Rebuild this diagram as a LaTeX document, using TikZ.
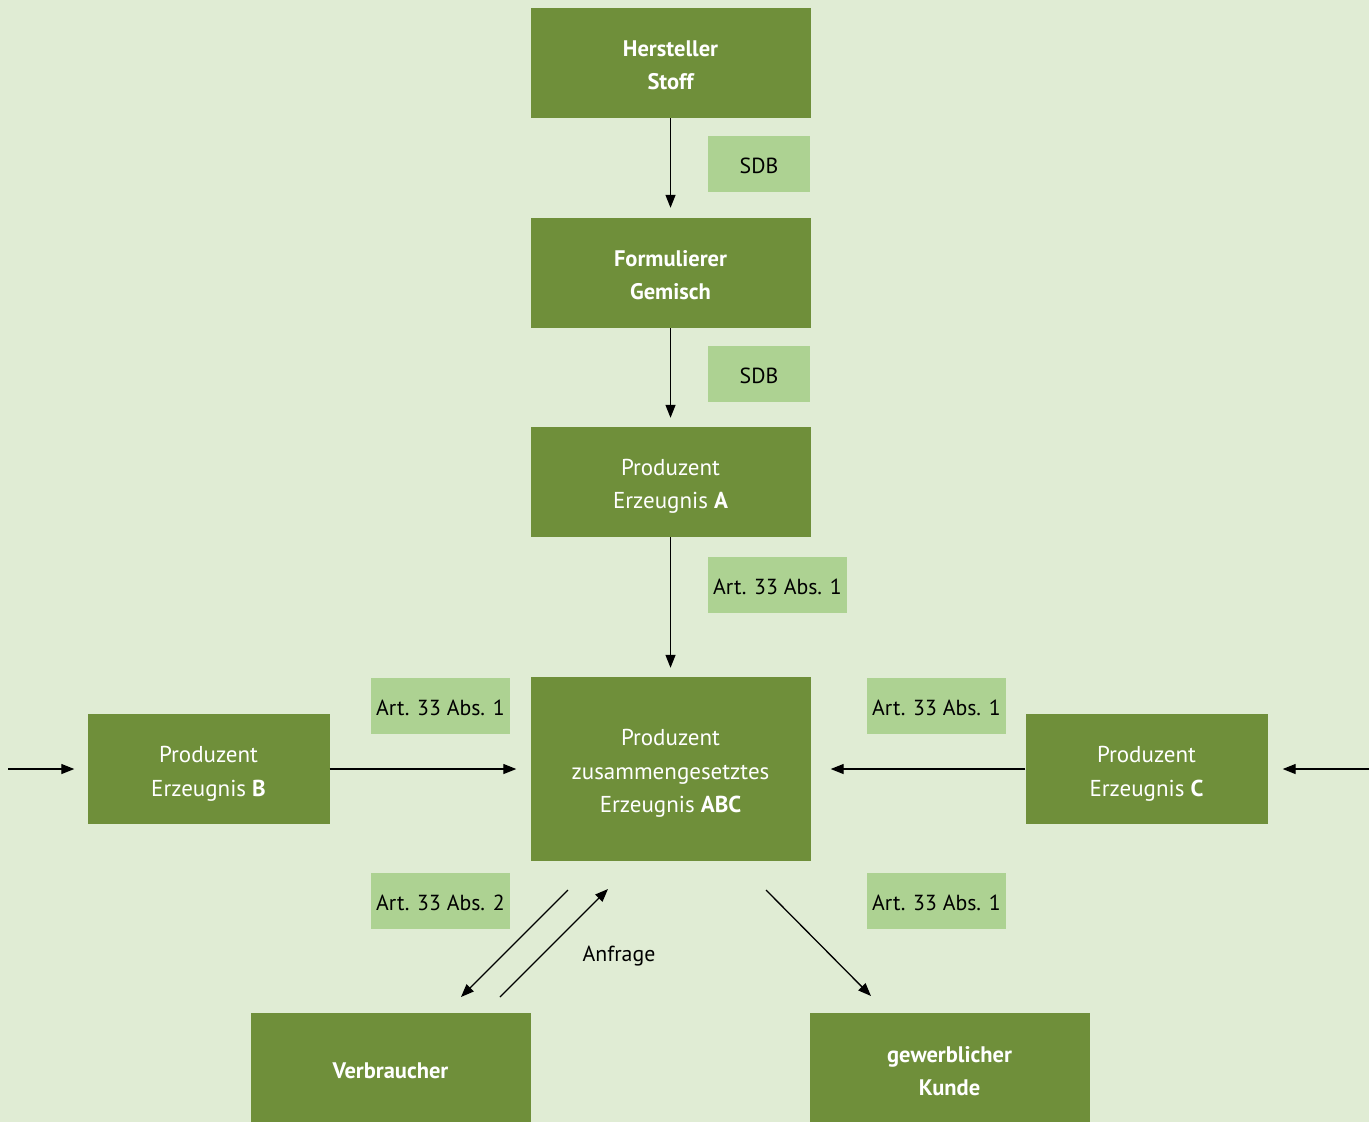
\documentclass[tikz,border=0pt]{standalone}
\usepackage{fontspec}
\setmainfont{PT Sans}
\usetikzlibrary{arrows.meta,calc}
\definecolor{bg}{HTML}{E0ECD4}
\definecolor{dark}{HTML}{6F8F3A}
\definecolor{lab}{HTML}{ADD292}
\newcommand\mylift[1]{\rule{0pt}{#1}}
\begin{document}
\begin{tikzpicture}[x=1pt,y=-1pt,
 actor/.style={fill=dark, text=white, minimum width=280pt, minimum height=110pt, inner sep=0pt, align=center, font=\fontsize{23}{33.5}\selectfont},
 lift/.style={execute at begin node={\rule{0pt}{#1}}},
 boldactor/.style={actor, font=\fontsize{22.5}{33.5}\selectfont\bfseries},
 side/.style={actor, minimum width=242pt},
 tag/.style={fill=lab, text=black, minimum height=56pt, minimum width=139pt, inner sep=0pt, font=\fontsize{21.8}{24}\selectfont, lift=19.5pt},
 flow/.style={-{Triangle[length=13pt,width=10pt]}, line width=1.3pt}]
\fill[bg] (0,0) rectangle (1369,1122);
\useasboundingbox (0,0) rectangle (1369,1122);
\begin{scope}
\clip (0,0) rectangle (1369,1122);
\node[boldactor] (h) at (670.5,63) {\mylift{20pt}Hersteller\\Stoff};
\node[boldactor] (f) at (670.5,273) {\mylift{20pt}Formulierer\\Gemisch};
\node[actor] (a) at (670.5,482) {\mylift{25pt}Produzent\\Erzeugnis \textbf{A}};
\node[actor, minimum height=184pt] (abc) at (670.5,769) {\mylift{25pt}Produzent\\zusammengesetztes\\Erzeugnis \textbf{ABC}};
\node[side] (b) at (208.5,769) {\mylift{26pt}Produzent\\Erzeugnis \textbf{B}};
\node[side] (c) at (1146.5,769) {\mylift{26pt}Produzent\\Erzeugnis \textbf{C}};
\node[boldactor, minimum height=116pt] (v) at (390.5,1071) {Verbraucher};
\node[boldactor, minimum height=116pt] (k) at (949.5,1071) {gewerblicher\\Kunde};
\end{scope}
\node[tag, minimum width=102pt] (t1) at (759,164) {SDB};
\node[tag, minimum width=102pt] (t2) at (759,374) {SDB};
\node[tag] (t3) at (777.5,585) {Art. 33 Abs. 1};
\node[tag] (t4) at (440.5,706) {Art. 33 Abs. 1};
\node[tag] (t5) at (936.5,706) {Art. 33 Abs. 1};
\node[tag] (t6) at (440.5,901) {Art. 33 Abs. 2};
\node[tag] (t7) at (936.5,901) {Art. 33 Abs. 1};
\node[font=\fontsize{21.8}{24}\selectfont, lift=19.5pt, inner sep=0pt] (anf) at (619,954) {Anfrage};
\draw[flow, shorten >=10pt] (h.south) -- (f.north);
\draw[flow, shorten >=9pt] (f.south) -- (a.north);
\draw[flow, shorten >=9pt] (a.south) -- (abc.north);
\draw[flow, shorten >=14pt] (b.east) -- (abc.west);
\draw[flow, shorten >=20pt] (c.west) -- (abc.east);
\coordinate (lin) at (8,769);
\coordinate (rin) at (1369,769);
\draw[flow, shorten >=13pt] (lin) -- (b.west);
\draw[flow, shorten >=15pt] (rin) -- (c.east);
\coordinate (d1) at (568,890);
\coordinate (d2) at (461,997);
\coordinate (u1) at (500,997);
\coordinate (u2) at (608,889);
\coordinate (r1) at (766,890);
\coordinate (r2) at (871,996);
\draw[flow] (d1) -- (d2);
\draw[flow] (u1) -- (u2);
\draw[flow] (r1) -- (r2);
\end{tikzpicture}
\end{document}
